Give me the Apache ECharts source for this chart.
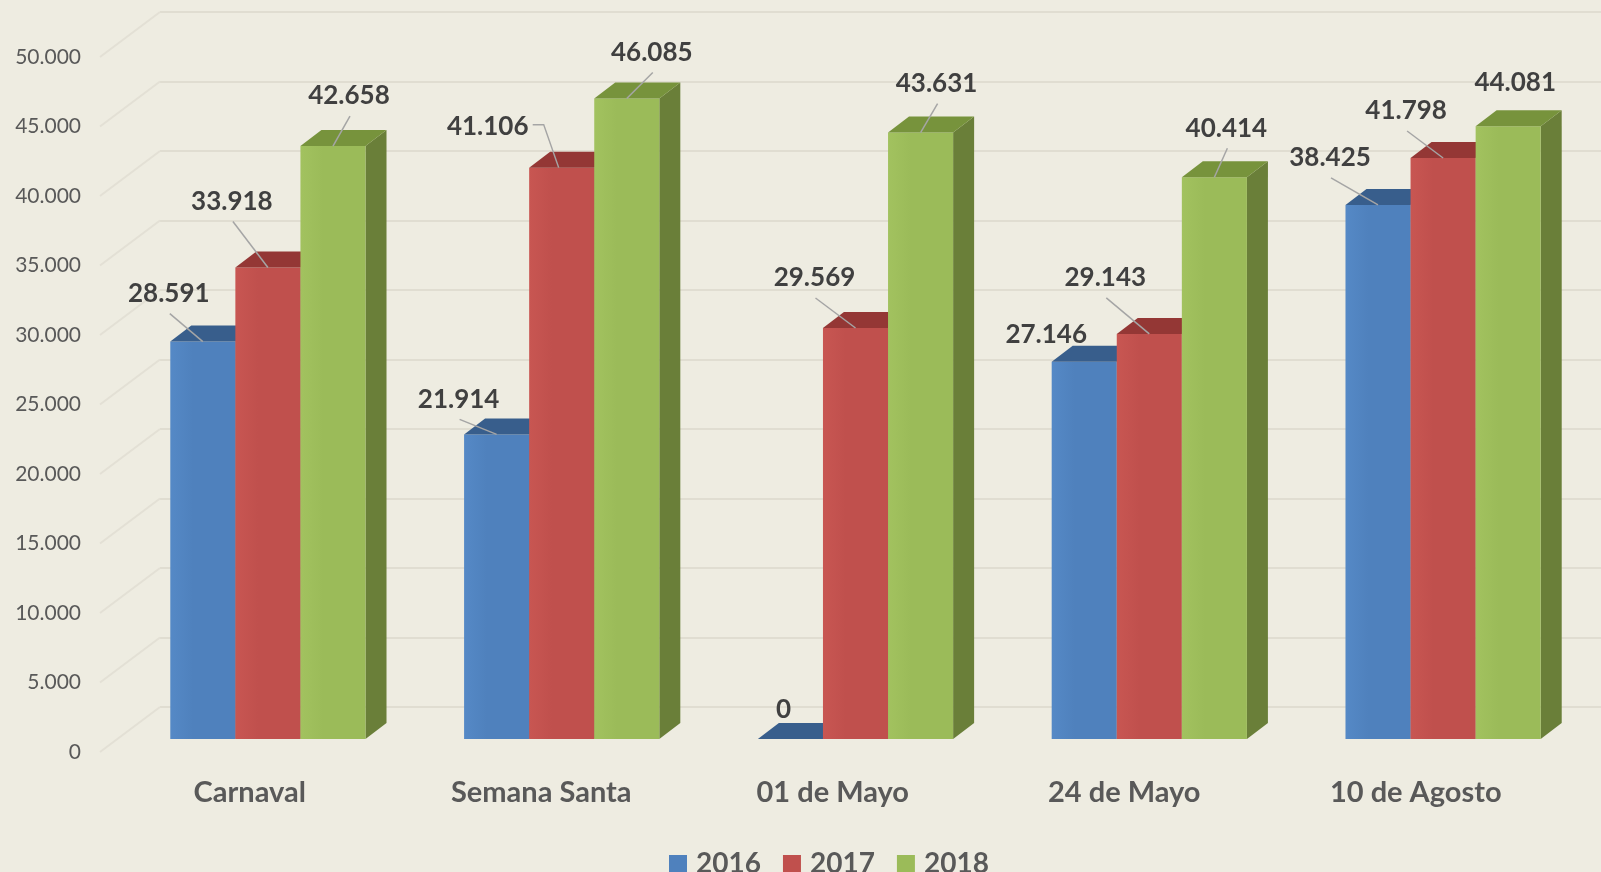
<!DOCTYPE html>
<html lang="es">
<head>
  <meta charset="UTF-8">
  <title>Feriados 2016 - 2018</title>
  <style>
    html, body { margin: 0; padding: 0; background: #eeece1; }
    #chart { width: 1601px; height: 872px; }
  </style>
</head>
<body>
  <div id="chart"></div>
  <script src="https://cdn.jsdelivr.net/npm/echarts@6/dist/echarts.min.js"></script>
  <script>
    // datos
    var categories = ['Carnaval', 'Semana Santa', '01 de Mayo', '24 de Mayo', '10 de Agosto'];
    var years = ['2016', '2017', '2018'];
    var values2016 = [28591, 21914, 0, 27146, 38425];
    var values2017 = [33918, 41106, 29569, 29143, 41798];
    var values2018 = [42658, 46085, 43631, 40414, 44081];
    var yTicks = [0, 5000, 10000, 15000, 20000, 25000, 30000, 35000, 40000, 45000, 50000];

    // posicion manual de las etiquetas (px desde el centro superior de la barra), como en Excel
    var nudge2016 = [[-34, -48], [-38, -35], [-7, -29], [-38, -27], [-48, -47]];
    var nudge2017 = [[-36, -66], [-74, -41], [-41, -50], [-44, -56], [-37, -47]];
    var nudge2018 = [[16, -50], [25, -46], [16, -49], [12, -49], [7, -44]];

    var palette = [
      { front: '#4f81bd', light: '#5589c6', top: '#385e8c', side: '#3b6091' },
      { front: '#c0504d', light: '#c85652', top: '#943735', side: '#8f3633' },
      { front: '#9bbb59', light: '#a2c25f', top: '#77933c', side: '#6a7f39' }
    ];
    var DX = 21, DY = 16;   // profundidad 3D
    var BAR = 0.2215;       // ancho de barra / ancho de categoria

    function fmt(v) {
      return String(v).replace(/\B(?=(\d{3})+(?!\d))/g, '.');
    }

    var myChart = echarts.init(document.getElementById('chart'));

    function barSeries(k, values, nudges) {
      var c = palette[k];
      return {
        type: 'custom',
        name: years[k],
        xAxisIndex: 0,
        yAxisIndex: 0,
        itemStyle: { color: c.front },
        data: values.map(function (v, i) { return [i, v]; }),
        renderItem: function (params, api) {
          var i = api.value(0), v = api.value(1);
          var base = api.coord([i, 0]);
          var top = api.coord([i, v]);
          var bw = api.size([1, 0])[0] * BAR;
          var x0 = base[0] - 1.5 * bw + k * bw, x1 = x0 + bw;
          var y0 = top[1], yb = base[1];
          var kids = [
            { type: 'polygon', shape: { points: [[x1, y0], [x1 + DX, y0 - DY], [x1 + DX, yb - DY], [x1, yb]] },
              style: { fill: c.side } },
            { type: 'rect', shape: { x: x0, y: y0, width: bw, height: yb - y0 },
              style: { fill: new echarts.graphic.LinearGradient(0, 0, 1, 0, [
                { offset: 0, color: c.light }, { offset: 0.35, color: c.front }, { offset: 1, color: c.front }]) } },
            { type: 'polygon', shape: { points: [[x0, y0], [x1, y0], [x1 + DX, y0 - DY], [x0 + DX, y0 - DY]] },
              style: { fill: c.top } }
          ];
          // etiqueta y linea guia
          var n = nudges[i];
          var tx = (x0 + x1) / 2, ty = y0;
          var lx = tx + n[0], ly = ty + n[1];
          if (Math.sqrt(n[0] * n[0] + n[1] * n[1]) > 50) {
            var pts;
            if (n[0] < -60) {
              pts = [[lx + 45, ly - 2], [lx + 56, ly - 2], [tx - 3, ty]];
            } else {
              pts = [[lx + 1, ly + 20], [tx, ty]];
            }
            kids.push({ type: 'polyline', z2: 90, shape: { points: pts },
              style: { stroke: '#a5a5a5', lineWidth: 1.5, fill: null } });
          }
          kids.push({
            type: 'text', z2: 100, x: lx, y: ly,
            style: { text: fmt(v), align: 'center', verticalAlign: 'middle',
              font: 'bold 26px Lato', fill: '#404040' }
          });
          return { type: 'group', children: kids };
        }
      };
    }

    var option = {
      backgroundColor: '#eeece1',
      animation: false,
      grid: [
        { left: 121, width: 1469, top: 44, height: 695 },     // barras
        { left: 104, width: 1457.5, top: 57, height: 695 },   // etiquetas frontales
        { left: 160, right: 0, top: 12, height: 695 }         // pared del fondo
      ],
      xAxis: [
        { type: 'category', gridIndex: 0, data: categories, show: false },
        { type: 'category', gridIndex: 1, data: categories,
          axisLine: { show: false }, axisTick: { show: false },
          axisLabel: { margin: 26, fontFamily: 'Lato', fontWeight: 'bold', fontSize: 29, color: '#595959' } },
        { type: 'value', gridIndex: 2, min: 0, max: 1, show: false }
      ],
      yAxis: [
        { type: 'value', gridIndex: 0, min: 0, max: 50000, show: false },
        { type: 'value', gridIndex: 1, min: 0, max: 50000, interval: 5000,
          axisLine: { show: false }, axisTick: { show: false }, splitLine: { show: false },
          axisLabel: { margin: 23, fontFamily: 'Lato', fontSize: 21, color: '#595959', formatter: fmt } },
        { type: 'value', gridIndex: 2, min: 0, max: 50000, interval: 5000,
          axisLine: { show: false }, axisTick: { show: false }, axisLabel: { show: false },
          splitLine: { show: true, lineStyle: { color: '#e0ddd1', width: 2 } } }
      ],
      legend: {
        data: years,
        left: 664,
        top: 845,
        icon: 'rect',
        itemWidth: 18,
        itemHeight: 18,
        itemGap: 22,
        textStyle: { fontFamily: 'Lato', fontWeight: 'bold', fontSize: 28, color: '#595959', padding: [0, 0, 0, 4] }
      },
      series: [
        {
          // lineas de la pared lateral
          type: 'custom',
          xAxisIndex: 2,
          yAxisIndex: 2,
          silent: true,
          data: yTicks.map(function (v) { return [0, v]; }),
          renderItem: function (params, api) {
            var p = api.coord([0, api.value(1)]);
            return { type: 'line', shape: { x1: p[0] - 60, y1: p[1] + 45, x2: p[0], y2: p[1] },
              style: { stroke: '#e3e0d5', lineWidth: 2 } };
          }
        },
        barSeries(0, values2016, nudge2016),
        barSeries(1, values2017, nudge2017),
        barSeries(2, values2018, nudge2018)
      ]
    };

    myChart.setOption(option);
  </script>
</body>
</html>
